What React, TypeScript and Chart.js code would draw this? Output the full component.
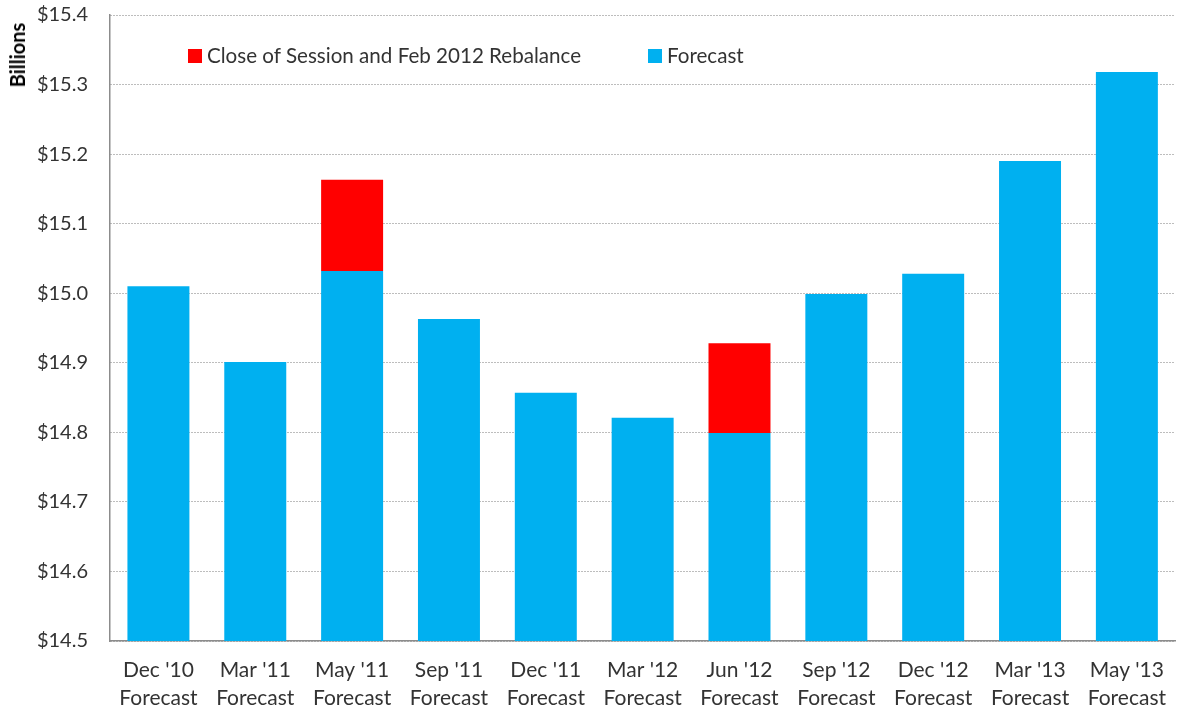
import React, { useEffect, useRef } from "react";
import { Chart, registerables } from "chart.js";

Chart.register(...registerables);

const categories: string[][] = [
  ["Dec '10", "Forecast"],
  ["Mar '11", "Forecast"],
  ["May '11", "Forecast"],
  ["Sep '11", "Forecast"],
  ["Dec '11", "Forecast"],
  ["Mar '12", "Forecast"],
  ["Jun '12", "Forecast"],
  ["Sep '12", "Forecast"],
  ["Dec '12", "Forecast"],
  ["Mar '13", "Forecast"],
  ["May '13", "Forecast"],
];

const forecast: number[] = [15.01, 14.901, 15.032, 14.963, 14.857, 14.821, 14.799, 14.999, 15.028, 15.19, 15.318];
const rebalanceTop: (number | null)[] = [null, null, 15.163, null, null, null, 14.928, null, null, null, null];

const yTicks: number[] = [14.5, 14.6, 14.7, 14.8, 14.9, 15.0, 15.1, 15.2, 15.3, 15.4];

const FONT = "Lato, 'Open Sans', sans-serif";

// canvas is slightly larger than the window and shifted up so the plot spans y 15..641
const SHIFT_Y = 19;
const EXTRA_X = 5;

export default function App() {
  const ref = useRef<HTMLCanvasElement | null>(null);

  useEffect(() => {
    if (!ref.current) return;
    const redData = rebalanceTop.map((t, i) => (t == null ? null : [forecast[i], t]));
    const chart = new Chart(ref.current, {
      type: "bar",
      data: {
        labels: categories,
        datasets: [
          {
            label: "Close of Session and Feb 2012 Rebalance",
            data: redData as any,
            backgroundColor: "#FF0000",
            barPercentage: 0.64,
            categoryPercentage: 1,
            order: 0,
          },
          {
            label: "Forecast",
            data: forecast.map((v) => [14.5, v]) as any,
            backgroundColor: "#00B0F0",
            barPercentage: 0.64,
            categoryPercentage: 1,
            order: 1,
          },
        ],
      },
      options: {
        animation: false,
        responsive: false,
        maintainAspectRatio: false,
        datasets: { bar: { grouped: false } } as any,
        layout: { padding: 0 },
        plugins: {
          legend: { display: false },
          tooltip: { enabled: false },
        },
        scales: {
          x: {
            offset: true,
            grid: { display: false, drawTicks: false },
            border: { display: true, color: "#8c8c8c", width: 1.5 },
            ticks: {
              color: "#333",
              font: { family: FONT, size: 21, lineHeight: 1.3 },
              padding: 16,
              maxRotation: 0,
              autoSkip: false,
            },
            afterFit: (s: any) => {
              s.height = 70;
            },
          },
          y: {
            min: 14.5,
            max: 15.4,
            afterBuildTicks: (s: any) => {
              s.ticks = yTicks.map((v) => ({ value: v }));
            },
            grid: {
              color: "#7a7a7a",
              lineWidth: 1,
              drawTicks: false,
            },
            border: { display: true, color: "#8c8c8c", width: 1.5, dash: [1, 2] },
            ticks: {
              color: "#333",
              font: { family: FONT, size: 20 },
              padding: 22,
              callback: (v: any) => "$" + Number(v).toFixed(1),
            },
            title: { display: false },
            afterFit: (s: any) => {
              s.width = 110;
            },
          },
        },
      },
    });
    return () => chart.destroy();
  }, []);

  const legendText: React.CSSProperties = {
    fontFamily: FONT,
    fontSize: 20.6,
    color: "#333",
    position: "absolute",
    top: 43,
    whiteSpace: "nowrap",
  };
  const sw: React.CSSProperties = { position: "absolute", top: 49, width: 14, height: 14 };

  return (
    <div
      style={{
        position: "fixed",
        left: 0,
        top: 0,
        width: 1177,
        height: 711,
        background: "#fff",
        overflow: "hidden",
      }}
    >
      <canvas
        ref={ref}
        width={1177 + EXTRA_X}
        height={711 + SHIFT_Y}
        style={{ display: "block", position: "absolute", left: 0, top: -SHIFT_Y }}
      />
      <div
        style={{
          position: "absolute",
          left: 17,
          top: 55,
          transform: "translate(-50%, -50%) rotate(-90deg)",
          fontFamily: FONT,
          fontWeight: "bold",
          fontSize: 20,
          color: "#000",
          whiteSpace: "nowrap",
        }}
      >
        Billions
      </div>
      <div style={{ ...sw, left: 188, background: "#FF0000" }} />
      <div style={{ ...legendText, left: 207 }}>Close of Session and Feb 2012 Rebalance</div>
      <div style={{ ...sw, left: 648, background: "#00B0F0" }} />
      <div style={{ ...legendText, left: 667 }}>Forecast</div>
    </div>
  );
}
